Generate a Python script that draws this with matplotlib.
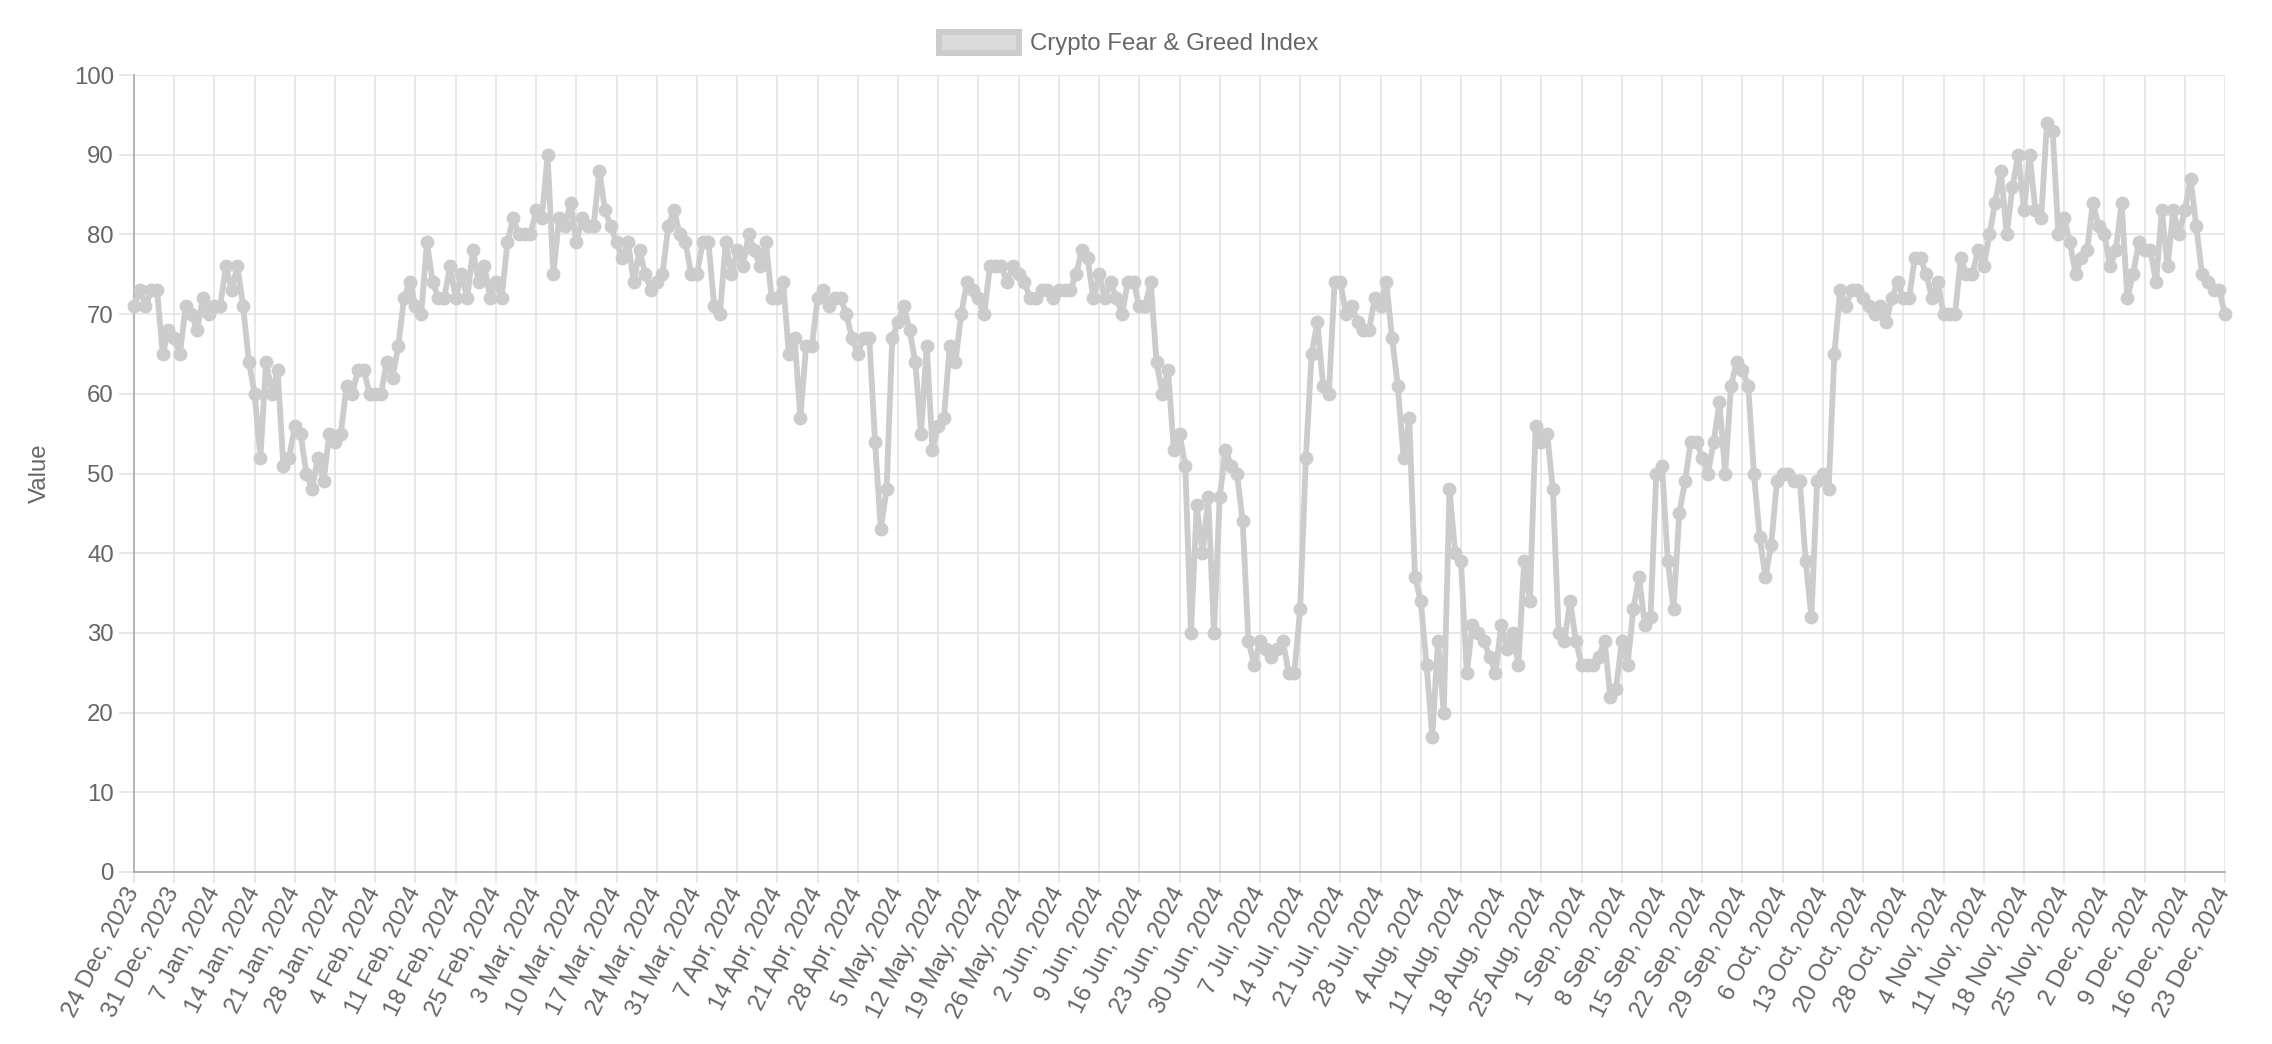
import matplotlib
matplotlib.use("Agg")
import matplotlib.pyplot as plt
from matplotlib.patches import Patch

series_name = "Crypto Fear & Greed Index"
y_label = "Value"

values = [
    71, 73, 71, 73, 73, 65, 68, 67, 65, 71, 70, 68, 72, 70, 71, 71, 76, 73, 76, 71,
    64, 60, 52, 64, 60, 63, 51, 52, 56, 55, 50, 48, 52, 49, 55, 54, 55, 61, 60, 63,
    63, 60, 60, 60, 64, 62, 66, 72, 74, 71, 70, 79, 74, 72, 72, 76, 72, 75, 72, 78,
    74, 76, 72, 74, 72, 79, 82, 80, 80, 80, 83, 82, 90, 75, 82, 81, 84, 79, 82, 81,
    81, 88, 83, 81, 79, 77, 79, 74, 78, 75, 73, 74, 75, 81, 83, 80, 79, 75, 75, 79,
    79, 71, 70, 79, 75, 78, 76, 80, 78, 76, 79, 72, 72, 74, 65, 67, 57, 66, 66, 72,
    73, 71, 72, 72, 70, 67, 65, 67, 67, 54, 43, 48, 67, 69, 71, 68, 64, 55, 66, 53,
    56, 57, 66, 64, 70, 74, 73, 72, 70, 76, 76, 76, 74, 76, 75, 74, 72, 72, 73, 73,
    72, 73, 73, 73, 75, 78, 77, 72, 75, 72, 74, 72, 70, 74, 74, 71, 71, 74, 64, 60,
    63, 53, 55, 51, 30, 46, 40, 47, 30, 47, 53, 51, 50, 44, 29, 26, 29, 28, 27, 28,
    29, 25, 25, 33, 52, 65, 69, 61, 60, 74, 74, 70, 71, 69, 68, 68, 72, 71, 74, 67,
    61, 52, 57, 37, 34, 26, 17, 29, 20, 48, 40, 39, 25, 31, 30, 29, 27, 25, 31, 28,
    30, 26, 39, 34, 56, 54, 55, 48, 30, 29, 34, 29, 26, 26, 26, 27, 29, 22, 23, 29,
    26, 33, 37, 31, 32, 50, 51, 39, 33, 45, 49, 54, 54, 52, 50, 54, 59, 50, 61, 64,
    63, 61, 50, 42, 37, 41, 49, 50, 50, 49, 49, 39, 32, 49, 50, 48, 65, 73, 71, 73,
    73, 72, 71, 70, 71, 69, 72, 74, 72, 72, 77, 77, 75, 72, 74, 70, 70, 70, 77, 75,
    75, 78, 76, 80, 84, 88, 80, 86, 90, 83, 90, 83, 82, 94, 93, 80, 82, 79, 75, 77,
    78, 84, 81, 80, 76, 78, 84, 72, 75, 79, 78, 78, 74, 83, 76, 83, 80, 83, 87, 81,
    75, 74, 73, 73, 70,
]

tick_labels = [
    "24 Dec, 2023", "31 Dec, 2023", "7 Jan, 2024", "14 Jan, 2024", "21 Jan, 2024",
    "28 Jan, 2024", "4 Feb, 2024", "11 Feb, 2024", "18 Feb, 2024", "25 Feb, 2024",
    "3 Mar, 2024", "10 Mar, 2024", "17 Mar, 2024", "24 Mar, 2024", "31 Mar, 2024",
    "7 Apr, 2024", "14 Apr, 2024", "21 Apr, 2024", "28 Apr, 2024", "5 May, 2024",
    "12 May, 2024", "19 May, 2024", "26 May, 2024", "2 Jun, 2024", "9 Jun, 2024",
    "16 Jun, 2024", "23 Jun, 2024", "30 Jun, 2024", "7 Jul, 2024", "14 Jul, 2024",
    "21 Jul, 2024", "28 Jul, 2024", "4 Aug, 2024", "11 Aug, 2024", "18 Aug, 2024",
    "25 Aug, 2024", "1 Sep, 2024", "8 Sep, 2024", "15 Sep, 2024", "22 Sep, 2024",
    "29 Sep, 2024", "6 Oct, 2024", "13 Oct, 2024", "20 Oct, 2024", "28 Oct, 2024",
    "4 Nov, 2024", "11 Nov, 2024", "18 Nov, 2024", "25 Nov, 2024", "2 Dec, 2024",
    "9 Dec, 2024", "16 Dec, 2024", "23 Dec, 2024",
]
label_step = 7
y_ticks = list(range(0, 101, 10))

plt.rcParams["font.family"] = ["Liberation Sans", "DejaVu Sans"]

W, H = 2272, 1044
fig = plt.figure(figsize=(W / 100, H / 100), dpi=100)
fig.patch.set_facecolor("white")
left, right, top, bottom = 134, 2225, 75, 872
ax = fig.add_axes([left / W, 1 - bottom / H, (right - left) / W, (bottom - top) / H])

line_color = "#cccccc"
text_color = "#666666"
grid_color = "#e2e2e2"
fs = 17.3

x = list(range(len(values)))
ax.plot(x, values, color=line_color, lw=4.2, marker="o", ms=8.8,
        mfc=line_color, mec=line_color, mew=1.2, solid_joinstyle="round",
        zorder=3, clip_on=False)

ax.set_xlim(0, len(values) - 1)
ax.set_ylim(0, 100)
ax.set_yticks(y_ticks)
ax.set_yticklabels([str(v) for v in y_ticks])
ax.set_xticks(x[::label_step])
ax.set_xticklabels(tick_labels, rotation=63, ha="right", va="center",
                   rotation_mode="anchor")

ax.grid(True, color=grid_color, lw=1.1)
ax.set_axisbelow(True)
for s in ["top", "right"]:
    ax.spines[s].set_visible(False)
for s in ["left", "bottom"]:
    ax.spines[s].set_color("#a8a8a8")
    ax.spines[s].set_linewidth(1.2)
ax.tick_params(axis="y", length=11, width=1.1, color=grid_color, pad=3.5,
               labelsize=fs, labelcolor=text_color)
ax.tick_params(axis="x", length=8, width=1.1, color=grid_color, pad=4,
               labelsize=fs, labelcolor=text_color)

fig.text(40 / W, 1 - 473.5 / H, y_label, rotation=90, ha="center", va="center",
         fontsize=fs, color=text_color)

handle = Patch(facecolor="#dadada", edgecolor=line_color, linewidth=4.3)
fig.legend(handles=[handle], labels=[series_name], loc="center",
           bbox_to_anchor=(0.4967, 1 - 43.5 / H), frameon=False,
           fontsize=fs, labelcolor=text_color, handlelength=3.33,
           handleheight=1.0, handletextpad=0.45, borderpad=0)

fig.savefig("out.png", dpi=100, facecolor="white")
